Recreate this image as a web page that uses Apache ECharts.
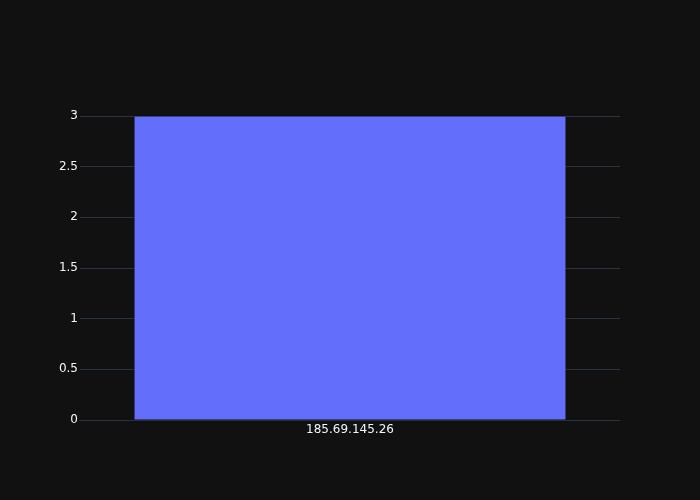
<!DOCTYPE html>
<html><head><meta charset="utf-8">
<script src="https://cdn.jsdelivr.net/npm/echarts@6/dist/echarts.min.js"></script>
<style>html,body{margin:0;padding:0;background:#111111;}#c{width:700px;height:500px;}</style>
</head><body><div id="c"></div>
<script>
const categories = ["185.69.145.26"];
const values = [3];
const yTicks = [0, 0.5, 1, 1.5, 2, 2.5, 3];

const chart = echarts.init(document.getElementById('c'), null, {renderer: 'canvas'});
chart.setOption({
  backgroundColor: '#111111',
  animation: false,
  grid: {left: 80, right: 80, top: 116, bottom: 80, containLabel: false},
  xAxis: {
    type: 'category',
    data: categories,
    axisLine: {show: true, lineStyle: {color: '#283442', width: 1}},
    axisTick: {show: false},
    axisLabel: {color: '#f2f5fa', fontFamily: 'DejaVu Sans, sans-serif', fontSize: 12, margin: 4}
  },
  yAxis: {
    type: 'value',
    min: 0, max: 3, interval: 0.5,
    axisLine: {show: false},
    axisTick: {show: false},
    splitLine: {lineStyle: {color: '#283442', width: 1}},
    axisLabel: {color: '#f2f5fa', fontFamily: 'DejaVu Sans, sans-serif', fontSize: 12, margin: 2,
      padding: [2, 0, 0, 0],
      formatter: v => yTicks.includes(v) ? String(v) : ''}
  },
  series: [{
    type: 'bar',
    data: values,
    barWidth: '80%',
    itemStyle: {color: '#636efa', borderColor: '#111111', borderWidth: 0.5}
  }]
});
</script></body></html>
